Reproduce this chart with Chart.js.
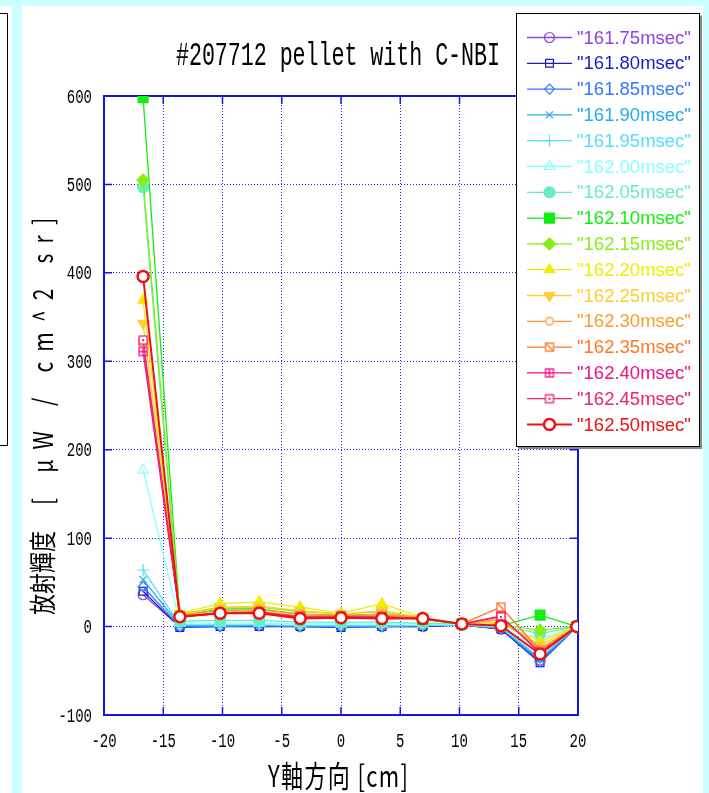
<!DOCTYPE html>
<html><head><meta charset="utf-8">
<script src="https://cdn.jsdelivr.net/npm/chart.js@4.4.1/dist/chart.umd.min.js"></script>
<style>
html,body{margin:0;padding:0;background:#ccffff;width:709px;height:793px;overflow:hidden;position:relative}
#leftp{position:absolute;left:0;top:6px;width:12px;height:787px;background:#fff}
#leftbox{position:absolute;left:-2px;top:13px;width:8px;height:431px;border:1px solid #000}
#panel{position:absolute;left:22px;top:6px;width:681px;height:787px;background:#fff}
canvas{position:absolute;left:0;top:0}
</style></head><body>
<div id="leftp"></div><div id="leftbox"></div><div id="panel"></div>
<canvas id="c" width="709" height="793"></canvas>
<script>
// ---- data ----
const xPositions = [-16.7, -13.6, -10.2, -6.9, -3.45, 0, 3.45, 6.9, 10.2, 13.5, 16.8, 19.9];
const xTickValues = [-20, -15, -10, -5, 0, 5, 10, 15, 20];
const yTickValues = [-100, 0, 100, 200, 300, 400, 500, 600];
const seriesLabels = ['"161.75msec"','"161.80msec"','"161.85msec"','"161.90msec"','"161.95msec"','"162.00msec"','"162.05msec"','"162.10msec"','"162.15msec"','"162.20msec"','"162.25msec"','"162.30msec"','"162.35msec"','"162.40msec"','"162.45msec"','"162.50msec"'];
const y16175 = [36, 0, 1, 1, 0, 0, 0, 0, 2, -3, -38, 0];
const y16180 = [40, -1, 0, 0, 0, -1, 0, 0, 2, -3, -41, 0];
const y16185 = [45, 0, 0, 1, 0, 0, 0, 1, 2, -2, -40, 0];
const y16190 = [53, 1, 1, 1, 1, 0, 0, 1, 2, -2, -37, 0];
const y16195 = [64, 2, 2, 2, 1, 1, 1, 1, 2, -1, -35, 0];
const y16200 = [177, 4, 4, 4, 3, 3, 3, 3, 2, 0, -14, 0];
const y16205 = [497, 6, 7, 7, 5, 5, 5, 4, 3, 1, -8, 0];
const y16210 = [598, 12, 20, 20, 14, 12, 14, 8, 3, 1, 13, 0];
const y16215 = [505, 14, 22, 22, 17, 14, 17, 9, 3, 2, -4, 0];
const y16220 = [369, 15, 26, 28, 22, 15, 26, 10, 3, 4, -17, 0];
const y16225 = [343, 14, 21, 23, 18, 14, 18, 10, 3, 5, -21, 0];
const y16230 = [318, 13, 18, 19, 14, 13, 14, 10, 3, 8, -25, 0];
const y16235 = [322, 12, 16, 17, 12, 12, 12, 9, 3, 22, -27, 0];
const y16240 = [311, 11, 15, 16, 11, 11, 11, 9, 3, 12, -30, 0];
const y16245 = [324, 11, 15, 16, 10, 11, 10, 9, 3, 11, -29, 0];
const y16250 = [396, 11, 15, 15, 9, 10, 9, 9, 3, 1, -31, 0];
const seriesValues = [y16175,y16180,y16185,y16190,y16195,y16200,y16205,y16210,y16215,y16220,y16225,y16230,y16235,y16240,y16245,y16250];

// ---- styles ----
const seriesColors = ['#9040e0','#1a1acc','#3377ff','#22aaee','#55ddff','#88ffff','#66eebb','#11ee11','#88ee11','#eeee00','#ffcc33','#ff9933','#ff7722','#ee1188','#ee2266','#ee1111'];
const seriesMarkers = ['circle','rect','rectRot','crossRot','cross','triangle','circle','rect','rectRot','triangle','triangleDown','circleSmall','sqDiag','sqPlus','sqDot','circle'];
const seriesFilled = [false,false,false,false,false,false,true,true,true,true,true,false,false,false,false,false];
const seriesRadius = [5,5.5,5,5,6,6,5.5,7,6,6,6,5,5,5,5,5.5];

function markerCanvas(kind, color){
  const c=document.createElement('canvas'); c.width=12; c.height=12;
  const g=c.getContext('2d'); g.strokeStyle=color; g.lineWidth=1.3; g.fillStyle='#fff';
  if(kind==='circleSmall'){ g.beginPath(); g.arc(6,6,3.8,0,2*Math.PI); g.fill(); g.stroke(); }
  else {
    g.fillRect(2,2,8,8); g.strokeRect(2,2,8,8);
    g.beginPath();
    if(kind==='sqDiag'){ g.moveTo(2,2); g.lineTo(10,10); }
    if(kind==='sqPlus'){ g.moveTo(6,2); g.lineTo(6,10); g.moveTo(2,6); g.lineTo(10,6); }
    g.stroke();
    if(kind==='sqDot'){ g.fillStyle=color; g.fillRect(5,5,2,2); }
  }
  return c;
}

const datasets = seriesLabels.map((lab,i)=>{
  const col = seriesColors[i]; const m = seriesMarkers[i];
  let ps = m, rot = 0;
  if(m==='triangleDown'){ ps='triangle'; rot=180; }
  if(['circleSmall','sqDiag','sqPlus','sqDot'].includes(m)) ps = markerCanvas(m, col);
  const red = i===15;
  return {
    label: lab,
    data: xPositions.map((x,j)=>({x:x, y:seriesValues[i][j]})),
    borderColor: col, backgroundColor: col,
    pointBorderColor: col,
    pointBackgroundColor: seriesFilled[i] ? col : (red ? '#ffffff' : 'rgba(255,255,255,0)'),
    pointStyle: ps, pointRotation: rot, pointRadius: seriesRadius[i],
    pointBorderWidth: red ? 2.5 : 1.2,
    borderWidth: red ? 2 : 1.3,
    tension: 0, fill: false, order: 16 - i
  };
});

const tickFont = {family: '"Liberation Mono", monospace', size: 14};

function drawFitted(ctx, text, font, cx, baseY, targetW, sy){
  ctx.font = font;
  const chars=[...text]; const ws=chars.map(ch=>ctx.measureText(ch).width);
  const sum=ws.reduce((a,b)=>a+b,0); const extra=chars.length>1 ? (targetW-sum)/(chars.length-1) : 0;
  let x = cx - targetW/2;
  ctx.save(); ctx.translate(0, baseY); ctx.scale(1, sy);
  ctx.textAlign='left'; ctx.textBaseline='alphabetic';
  chars.forEach((ch,k)=>{ ctx.fillText(ch, x, 0); x += ws[k]+extra; });
  ctx.restore();
}

function drawStretched(ctx, text, x, baseY, align, sy){
  ctx.save(); ctx.translate(x, baseY); ctx.scale(1, sy);
  ctx.textAlign=align; ctx.textBaseline='alphabetic';
  ctx.fillText(text, 0, 0);
  ctx.restore();
}

const framePlugin = {
  id:'frame',
  beforeDatasetsDraw(chart){
    const {ctx, chartArea:{left,right,top,bottom}} = chart;
    const xs = chart.scales.x, ys = chart.scales.y;
    ctx.save();
    ctx.strokeStyle='#1414e6'; ctx.lineWidth=1.5;
    ctx.beginPath();
    xTickValues.forEach(v=>{ const p=xs.getPixelForValue(v); ctx.moveTo(p,bottom); ctx.lineTo(p,bottom-8); ctx.moveTo(p,top); ctx.lineTo(p,top+8); });
    yTickValues.forEach(v=>{ const p=ys.getPixelForValue(v); ctx.moveTo(left,p); ctx.lineTo(left+8,p); ctx.moveTo(right,p); ctx.lineTo(right-8,p); });
    ctx.stroke();
    ctx.lineWidth=2;
    ctx.strokeRect(left,top,right-left,bottom-top);
    ctx.restore();
  }
};

const textPlugin = {
  id:'texts',
  afterDraw(chart){
    const ctx = chart.ctx;
    const xs = chart.scales.x, ys = chart.scales.y;
    ctx.save();
    ctx.fillStyle='#000';
    // tick labels, taken from the library's own ticks
    ctx.font = '14px "Liberation Mono", monospace';
    xs.ticks.forEach(t=>{ drawStretched(ctx, String(t.label), xs.getPixelForValue(t.value), 747, 'center', 1.45); });
    ys.ticks.forEach(t=>{ drawStretched(ctx, String(t.label), 92, ys.getPixelForValue(t.value)+6.5, 'right', 1.45); });
    // titles
    drawFitted(ctx, '#207712 pellet with C-NBI', '21.7px "Liberation Mono", monospace', 338, 65, 324, 1.55);
    drawFitted(ctx, 'Y軸方向 [cm]', '22px "Noto Sans CJK JP", sans-serif', 338, 787, 140, 1.35);
    ctx.save();
    ctx.translate(53, 416.5); ctx.rotate(-Math.PI/2);
    ctx.scale(1, 1.3);
    drawFitted(ctx, '放射輝度', '21px "Noto Sans CJK JP", sans-serif', -156.5, 0, 84, 1);
    drawFitted(ctx, '[ μW / cm^2 sr]', '21px "Noto Sans CJK JP", sans-serif', 55, 0, 287, 1);
    ctx.restore();
    ctx.restore();
  }
};

const legendPlugin = {
  id:'legendBox',
  afterDraw(chart){
    const ctx = chart.ctx;
    const L=516.5, T=13.5, R=699.5, B=446.5;
    ctx.save();
    ctx.fillStyle='#fff'; ctx.fillRect(L,T,R-L,B-T);
    ctx.strokeStyle='#888'; ctx.lineWidth=2;
    ctx.beginPath(); ctx.moveTo(R+1.5,T+2); ctx.lineTo(R+1.5,B+1.5); ctx.lineTo(L+2,B+1.5); ctx.stroke();
    ctx.strokeStyle='#000'; ctx.lineWidth=1; ctx.strokeRect(L,T,R-L,B-T);
    chart.data.datasets.forEach((ds,i)=>{
      const y = 37.5 + i*25.8;
      ctx.strokeStyle=ds.borderColor; ctx.lineWidth=ds.borderWidth;
      ctx.beginPath(); ctx.moveTo(527,y); ctx.lineTo(572,y); ctx.stroke();
      ctx.fillStyle=ds.pointBackgroundColor; ctx.strokeStyle=ds.pointBorderColor; ctx.lineWidth=ds.pointBorderWidth;
      if(Chart.helpers && Chart.helpers.drawPoint){
        Chart.helpers.drawPoint(ctx, {pointStyle: ds.pointStyle, rotation: ds.pointRotation, radius: ds.pointRadius, borderWidth: ds.pointBorderWidth}, 549.5, y);
      }
      ctx.fillStyle=ds.borderColor;
      ctx.font='18.5px "Liberation Sans", Arial, sans-serif';
      ctx.textAlign='left'; ctx.textBaseline='middle';
      ctx.fillText(ds.label, 577, y+1);
    });
    ctx.restore();
  }
};

new Chart(document.getElementById('c'), {
  type:'line',
  data:{datasets},
  options:{
    responsive:false, animation:false, devicePixelRatio:1,
    layout:{padding:{left:44, right:131, top:96, bottom:0}},
    plugins:{legend:{display:false}, tooltip:{enabled:false}, title:{display:false}},
    scales:{
      x:{type:'linear', min:-20, max:20,
        afterBuildTicks: s=>{ s.ticks = xTickValues.map(v=>({value:v})); },
        afterFit: s=>{ s.height = 78; },
        ticks:{color:'rgba(0,0,0,0)', font:tickFont, padding:16, maxRotation:0, autoSkip:false},
        grid:{color:'#2828ee', lineWidth:1, drawTicks:false},
        border:{display:false, dash:[1,2]}
      },
      y:{type:'linear', min:-100, max:600,
        afterBuildTicks: s=>{ s.ticks = yTickValues.map(v=>({value:v})); },
        afterFit: s=>{ s.width = 60; },
        ticks:{color:'rgba(0,0,0,0)', font:tickFont, padding:13, autoSkip:false},
        grid:{color:'#2828ee', lineWidth:1, drawTicks:false},
        border:{display:false, dash:[1,2]}
      }
    }
  },
  plugins:[framePlugin, textPlugin, legendPlugin]
});
</script>
</body></html>
